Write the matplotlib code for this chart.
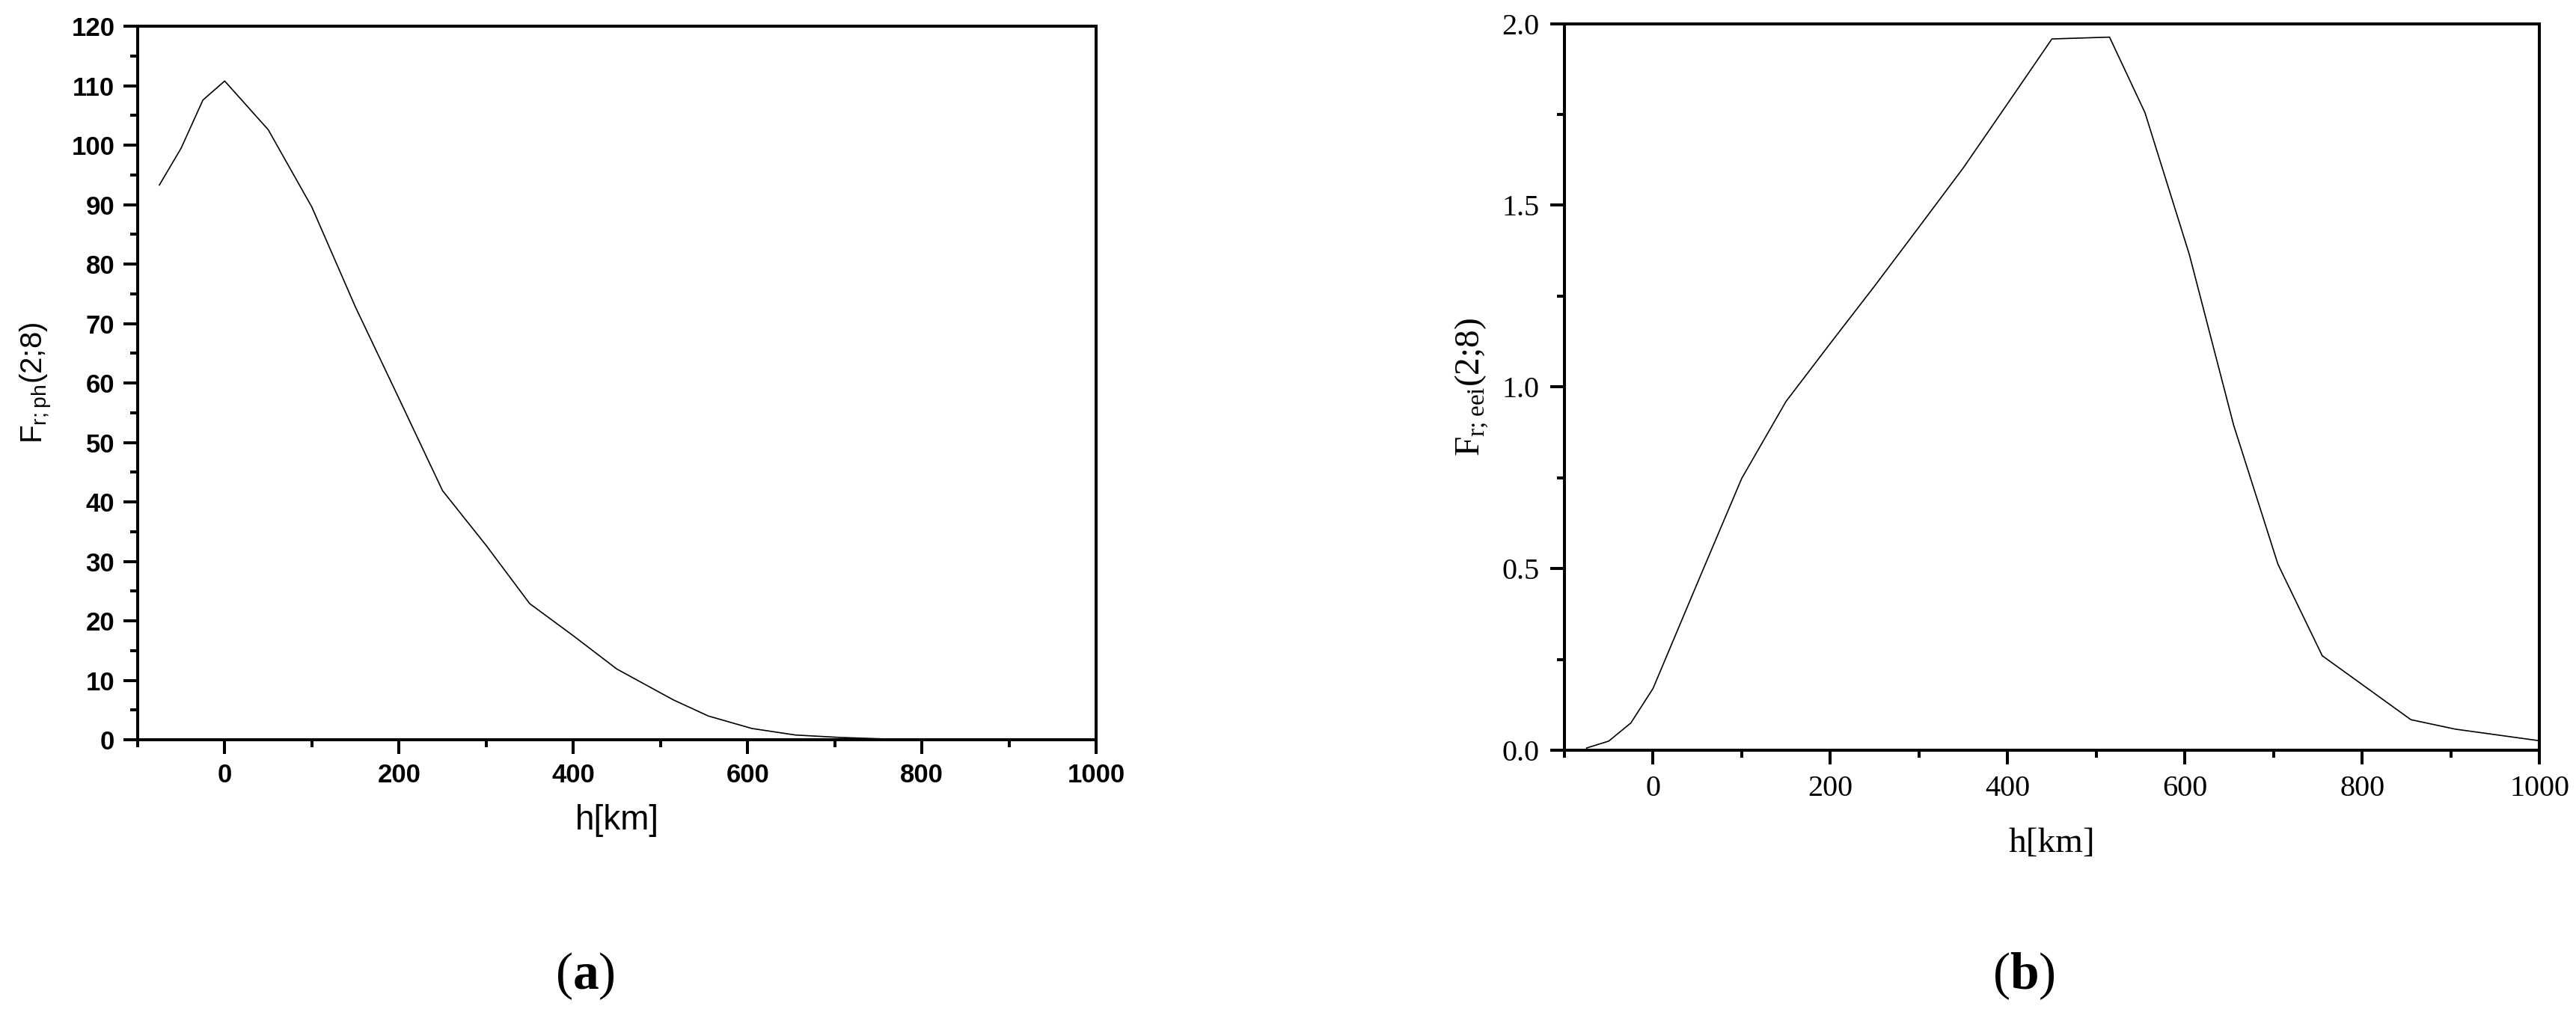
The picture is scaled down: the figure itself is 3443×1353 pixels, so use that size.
import numpy as np
import matplotlib
matplotlib.use("Agg")
import matplotlib.pyplot as plt
from matplotlib.ticker import MultipleLocator, FormatStrFormatter

plt.rcParams["mathtext.fontset"] = "custom"
plt.rcParams["mathtext.rm"] = "Liberation Serif"
plt.rcParams["mathtext.bf"] = "Liberation Serif:bold"

# heights [km]
h = [-75, -50, -25, 0, 50, 100, 150, 200, 250, 300, 350, 400, 450, 515,
     555, 605, 655, 705, 755, 855, 905, 1000]
# panel (a): F_r;ph(2;8)
f_ph = [93.3, 99.5, 107.6, 110.8, 102.6, 89.6, 72.8, 57.4, 41.9, 32.7, 22.9,
        17.5, 11.9, 6.7, 4.0, 1.9, 0.8, 0.4, 0.15, 0.04, 0.02, 0.01]
# panel (b): F_r;eei(2;8)
f_eei = [0.006, 0.025, 0.075, 0.17, 0.46, 0.748, 0.96, 1.12, 1.278, 1.44,
         1.603, 1.78, 1.958, 1.963, 1.755, 1.365, 0.895, 0.512, 0.26,
         0.084, 0.058, 0.026]

fig = plt.figure(figsize=(34.43, 13.53), dpi=100)

# ---- (a) ----
sans = "Liberation Sans"
ax1 = fig.add_axes([0.0534, 0.269, 0.3721, 0.705])
ax1.plot(h, f_ph, color="black", lw=1.2)
ax1.set_xlim(-100, 1000)
ax1.set_ylim(0, 120)
ax1.xaxis.set_major_locator(MultipleLocator(200))
ax1.xaxis.set_minor_locator(MultipleLocator(100))
ax1.yaxis.set_major_locator(MultipleLocator(10))
ax1.yaxis.set_minor_locator(MultipleLocator(5))
ax1.set_xlabel("h[km]", family=sans, fontsize=33, labelpad=16)
ax1.set_ylabel(r"F$_{\mathregular{r;ph}}$(2;8)", family=sans, fontsize=29, labelpad=17)
for lab in ax1.get_xticklabels() + ax1.get_yticklabels():
    lab.set_family(sans)
    lab.set_fontweight("bold")
    lab.set_fontsize(25)

# ---- (b) ----
serif = "Liberation Serif"
ax2 = fig.add_axes([0.6073, 0.2587, 0.3785, 0.7179])
ax2.plot(h, f_eei, color="black", lw=1.2)
ax2.set_xlim(-100, 1000)
ax2.set_ylim(0, 2.0)
ax2.xaxis.set_major_locator(MultipleLocator(200))
ax2.xaxis.set_minor_locator(MultipleLocator(100))
ax2.yaxis.set_major_locator(MultipleLocator(0.5))
ax2.yaxis.set_minor_locator(MultipleLocator(0.25))
ax2.yaxis.set_major_formatter(FormatStrFormatter("%.1f"))
ax2.set_xlabel("h[km]", family=serif, fontsize=34, labelpad=24)
ax2.set_ylabel(r"F$_{\mathregular{r;eei}}$(2;8)", family=serif, fontsize=34, labelpad=11)
for lab in ax2.get_xticklabels() + ax2.get_yticklabels():
    lab.set_family(serif)
    lab.set_fontsize(29)

for ax in (ax1, ax2):
    for s in ax.spines.values():
        s.set_linewidth(2.9)
    ax.tick_params(which="major", direction="out", length=14, width=2.9, pad=8)
    ax.tick_params(which="minor", direction="out", length=7, width=2.9)
ax2.tick_params(which="major", pad=10)

fig.text(0.2271, 0.023, r"($\mathbf{a}$)", family=serif, fontsize=50,
         ha="center", va="baseline")
fig.text(0.7857, 0.023, r"($\mathbf{b}$)", family=serif, fontsize=50,
         ha="center", va="baseline")

fig.savefig("out.png", dpi=100)
